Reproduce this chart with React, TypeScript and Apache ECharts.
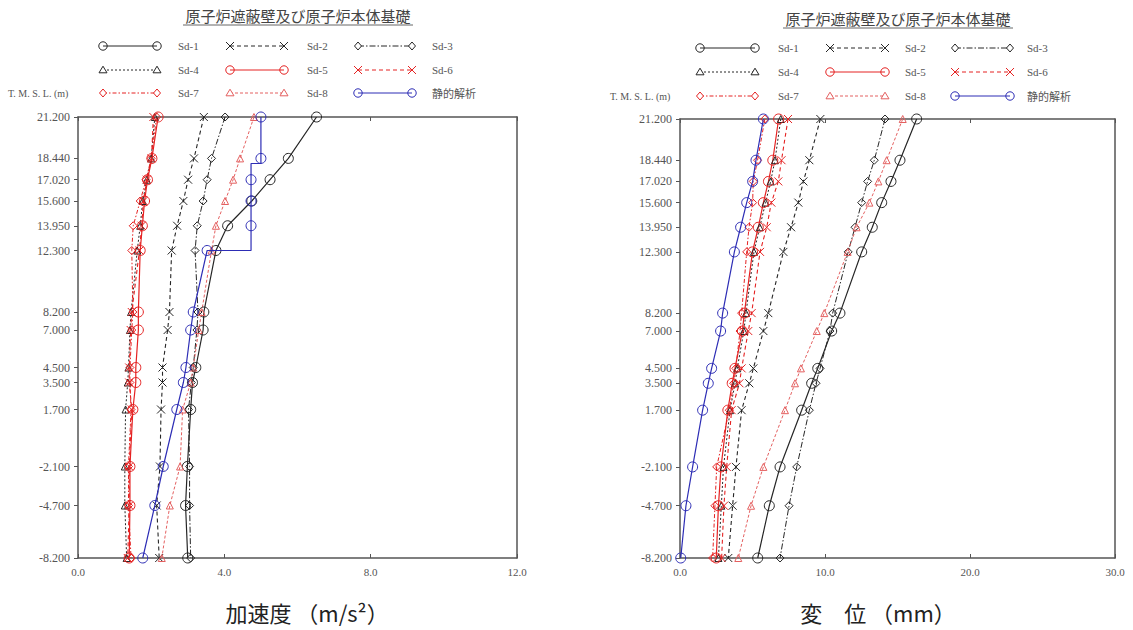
import { useEffect, useRef } from "react";
import * as echarts from "echarts";

// ---------- data ----------
const levels = [21.2, 18.44, 17.02, 15.6, 13.95, 12.3, 8.2, 7.0, 4.5, 3.5, 1.7, -2.1, -4.7, -8.2];
const seriesNames = ["Sd-1", "Sd-2", "Sd-3", "Sd-4", "Sd-5", "Sd-6", "Sd-7", "Sd-8", "静的解析"];
const accTicks = [0, 4, 8, 12];
const dispTicks = [0, 10, 20, 30];

// acceleration (m/s2)
const accSd1 = [6.52, 5.75, 5.25, 4.75, 4.09, 3.77, 3.44, 3.42, 3.22, 3.13, 3.08, 2.99, 2.94, 3.0];
const accSd2 = [3.44, 3.17, 3.01, 2.88, 2.71, 2.56, 2.5, 2.45, 2.31, 2.31, 2.27, 2.24, 2.15, 2.22];
const accSd3 = [4.02, 3.65, 3.53, 3.42, 3.26, 3.2, 3.28, 3.25, 3.15, 3.1, 3.02, 3.05, 3.05, 3.08];
const accSd4 = [2.1, 2.0, 1.88, 1.77, 1.7, 1.62, 1.45, 1.42, 1.38, 1.36, 1.3, 1.28, 1.28, 1.33];
const accSd5 = [2.19, 2.02, 1.9, 1.82, 1.76, 1.7, 1.65, 1.65, 1.58, 1.58, 1.5, 1.42, 1.42, 1.4];
const accSd6 = [2.06, 2.01, 1.88, 1.79, 1.74, 1.68, 1.47, 1.44, 1.4, 1.4, 1.47, 1.4, 1.4, 1.36];
const accSd7 = [2.15, 2.0, 1.86, 1.7, 1.51, 1.47, 1.5, 1.47, 1.42, 1.42, 1.45, 1.38, 1.38, 1.45];
const accSd8 = [4.81, 4.43, 4.24, 4.02, 3.77, 3.65, 3.38, 3.3, 3.15, 3.08, 2.86, 2.79, 2.51, 2.29];
const accStatic = [5.0, 5.0, 4.73, 4.73, 4.73, 3.53, 3.15, 3.08, 2.95, 2.88, 2.7, 2.33, 2.1, 1.77];
// step corners of the static (seismic coefficient) line: inserted after level index
const accStaticSteps = [
  { after: 1, points: [[5.0, 18.1], [4.73, 18.1]] },
  { after: 4, points: [[4.73, 12.3]] },
];

// displacement (mm)
const dispSd1 = [16.32, 15.17, 14.55, 13.91, 13.26, 12.53, 11.03, 10.46, 9.5, 9.08, 8.39, 6.9, 6.16, 5.36];
const dispSd2 = [9.68, 8.92, 8.51, 8.16, 7.66, 7.13, 6.09, 5.75, 5.06, 4.78, 4.25, 3.86, 3.63, 3.33];
const dispSd3 = [14.14, 13.4, 12.94, 12.53, 12.07, 11.6, 10.53, 10.34, 9.66, 9.38, 8.92, 8.05, 7.52, 6.9];
const dispSd4 = [6.95, 6.55, 6.25, 5.9, 5.5, 5.1, 4.55, 4.4, 3.95, 3.8, 3.45, 3.0, 2.85, 2.65];
const dispSd5 = [6.8, 6.4, 6.1, 5.75, 5.4, 5.0, 4.44, 4.3, 3.79, 3.6, 3.3, 2.83, 2.65, 2.5];
const dispSd6 = [7.45, 7.0, 6.78, 6.3, 5.98, 5.52, 4.94, 4.71, 4.25, 4.1, 3.56, 3.22, 3.03, 2.87];
const dispSd7 = [5.85, 5.35, 5.05, 5.01, 4.76, 4.6, 4.25, 4.14, 3.85, 3.7, 3.4, 2.53, 2.41, 2.25];
const dispSd8 = [15.36, 14.25, 13.68, 13.06, 12.18, 11.56, 9.95, 9.43, 8.34, 7.93, 7.24, 5.75, 4.9, 4.02];
const dispStatic = [5.75, 5.24, 5.01, 4.6, 4.18, 3.75, 2.94, 2.8, 2.18, 1.95, 1.56, 0.87, 0.41, 0.05];

const titleText = "原子炉遮蔽壁及び原子炉本体基礎";
const elevLabel = "T. M. S. L. (m)";
const accAxisName = "加速度 （m/s²）";
const dispAxisName = "変　位 （mm）";

// ---------- styles ----------
const X_PATH = "path://M0,0L10,10M10,0L0,10";
const BLACK = "#262626";
const RED = "#e52222";
const PINK = "#e46060";
const BLUE = "#2d2db5";
const styles: any[] = [
  { color: BLACK, dash: "solid", symbol: "circle", kind: "circle", size: 10, width: 1.2 },
  { color: BLACK, dash: [4, 3], symbol: X_PATH, kind: "x", size: 8, width: 1.1 },
  { color: BLACK, dash: [6, 2, 1.5, 2], symbol: "diamond", kind: "diamond", size: 8, width: 1 },
  { color: BLACK, dash: [2, 2], symbol: "triangle", kind: "triangle", size: 7, width: 1 },
  { color: RED, dash: "solid", symbol: "circle", kind: "circle", size: 10, width: 1.2 },
  { color: RED, dash: [4, 3], symbol: X_PATH, kind: "x", size: 8, width: 1.1 },
  { color: RED, dash: [4, 2, 1.5, 2], symbol: "diamond", kind: "diamond", size: 8, width: 1 },
  { color: PINK, dash: [3, 2], symbol: "triangle", kind: "triangle", size: 7, width: 1 },
  { color: BLUE, dash: "solid", symbol: "circle", kind: "circle", size: 10, width: 1.2 },
];

const AXIS = "#555";
const LABEL_FONT = "Liberation Serif";

function mkSeries(values: number[], idx: number, xi: number, yi: number, steps?: any[]) {
  const st = styles[idx];
  const data: any[] = [];
  values.forEach((v, i) => {
    data.push([v, levels[i]]);
    if (steps) {
      steps.filter((s) => s.after === i).forEach((s) =>
        s.points.forEach((p: number[]) => data.push({ value: p, symbol: "none" }))
      );
    }
  });
  return {
    type: "line",
    name: seriesNames[idx],
    xAxisIndex: xi,
    yAxisIndex: yi,
    data,
    symbol: st.symbol,
    symbolSize: st.size,
    lineStyle: { color: st.color, width: st.width, type: st.dash },
    itemStyle: { color: "rgba(255,255,255,0)", borderColor: st.color, borderWidth: 1 },
    emphasis: { disabled: true },
    silent: true,
    z: idx === 8 ? 4 : 3,
  };
}

function symbolGraphic(kind: string, cx: number, cy: number, color: string): any {
  const st = { fill: "none", stroke: color, lineWidth: 1 };
  if (kind === "circle") return { type: "circle", shape: { cx, cy, r: 4.2 }, style: st };
  if (kind === "diamond")
    return { type: "polygon", shape: { points: [[cx, cy - 4], [cx + 3.5, cy], [cx, cy + 4], [cx - 3.5, cy]] }, style: { ...st, fill: "#fff" } };
  if (kind === "triangle")
    return { type: "polygon", shape: { points: [[cx, cy - 3.8], [cx + 4, cy + 2.8], [cx - 4, cy + 2.8]] }, style: { ...st, fill: "#fff" } };
  return {
    type: "group",
    children: [
      { type: "line", shape: { x1: cx - 4, y1: cy - 4, x2: cx + 4, y2: cy + 4 }, style: st },
      { type: "line", shape: { x1: cx + 4, y1: cy - 4, x2: cx - 4, y2: cy + 4 }, style: st },
    ],
  };
}

function textEl(text: string, x: number, y: number, font: string, fill: string, align = "left"): any {
  return {
    type: "text",
    x,
    y,
    style: { text, font, fill, align, verticalAlign: "middle", textAlign: align, textVerticalAlign: "middle" },
  };
}

function legendGraphics(colX: number[], textX: number[], rowY: number[], lineLen: number) {
  const els: any[] = [];
  seriesNames.forEach((name, i) => {
    const st = styles[i];
    const x0 = colX[i % 3];
    const y = rowY[Math.floor(i / 3)];
    els.push({
      type: "line",
      shape: { x1: x0, y1: y, x2: x0 + lineLen, y2: y },
      style: { stroke: st.color, lineWidth: 1, lineDash: st.dash === "solid" ? null : st.dash },
    });
    els.push(symbolGraphic(st.kind, x0, y, st.color));
    els.push(symbolGraphic(st.kind, x0 + lineLen, y, st.color));
    els.push(textEl(name, textX[i % 3], y, `11px "${i === 8 ? "Noto Sans CJK JP" : LABEL_FONT}"`, "#555"));
  });
  return els;
}

function titleGraphics(cx: number, cy: number) {
  return [
    textEl(titleText, cx, cy, '15px "Noto Sans CJK JP"', "#444", "center"),
    { type: "line", shape: { x1: cx - 115, y1: cy + 10, x2: cx + 115, y2: cy + 10 }, style: { stroke: "#666", lineWidth: 1 } },
  ];
}

function yAxes(gridIndex: number) {
  return [
    {
      type: "value",
      gridIndex,
      min: -8.2,
      max: 21.2,
      position: "left",
      axisLine: { show: true, onZero: false, lineStyle: { color: AXIS, width: 1.5 } },
      axisTick: { show: true, inside: false, length: 4, customValues: levels, lineStyle: { color: AXIS } },
      axisLabel: {
        customValues: levels,
        formatter: (v: number) => v.toFixed(3),
        fontFamily: LABEL_FONT,
        fontSize: 12,
        color: "#555",
        margin: 8,
      },
      splitLine: { show: false },
    },
    {
      type: "value",
      gridIndex,
      min: -8.2,
      max: 21.2,
      position: "right",
      axisLine: { show: true, onZero: false, lineStyle: { color: AXIS, width: 1.5 } },
      axisTick: { show: false },
      axisLabel: { show: false },
      splitLine: { show: false },
    },
  ];
}

function xAxes(gridIndex: number, ticks: number[]) {
  const interval = ticks[1] - ticks[0];
  const base = {
    type: "value",
    gridIndex,
    min: ticks[0],
    max: ticks[ticks.length - 1],
    interval,
    splitLine: { show: false },
  };
  return [
    {
      ...base,
      position: "bottom",
      axisLine: { show: true, onZero: false, lineStyle: { color: AXIS, width: 1.5 } },
      axisTick: { show: true, inside: true, length: 4, lineStyle: { color: AXIS } },
      axisLabel: {
        formatter: (v: number) => v.toFixed(1),
        fontFamily: LABEL_FONT,
        fontSize: 11,
        color: "#555",
        margin: 8,
      },
    },
    {
      ...base,
      position: "top",
      axisLine: { show: true, onZero: false, lineStyle: { color: AXIS, width: 1.5 } },
      axisTick: { show: true, inside: true, length: 4, lineStyle: { color: AXIS } },
      axisLabel: { show: false },
    },
  ];
}

export default function App() {
  const ref = useRef<HTMLDivElement>(null);
  useEffect(() => {
    if (!ref.current) return;
    const chart = echarts.init(ref.current, undefined, { renderer: "svg" });
    const accSets = [accSd1, accSd2, accSd3, accSd4, accSd5, accSd6, accSd7, accSd8, accStatic];
    const dispSets = [dispSd1, dispSd2, dispSd3, dispSd4, dispSd5, dispSd6, dispSd7, dispSd8, dispStatic];
    const series: any[] = [];
    accSets.forEach((vals, i) => series.push(mkSeries(vals, i, 0, 0, i === 8 ? accStaticSteps : undefined)));
    dispSets.forEach((vals, i) => series.push(mkSeries(vals, i, 2, 2)));

    const option: any = {
      animation: false,
      backgroundColor: "#fff",
      grid: [
        { left: 78, top: 117, width: 439, height: 441 },
        { left: 680, top: 119, width: 435, height: 439 },
      ],
      xAxis: [...xAxes(0, accTicks), ...xAxes(1, dispTicks)],
      yAxis: [...yAxes(0), ...yAxes(1)],
      series,
      graphic: {
        elements: [
          ...titleGraphics(298, 15),
          ...titleGraphics(898, 18),
          ...legendGraphics([103, 230, 358], [178, 307, 432], [46, 70, 93], 54),
          ...legendGraphics([700, 830, 955], [778, 905, 1027], [48, 72, 96], 55),
          textEl(elevLabel, 8, 93, `10px "${LABEL_FONT}"`, "#555"),
          textEl(elevLabel, 610, 96, `10px "${LABEL_FONT}"`, "#555"),
          textEl(accAxisName, 307, 612, '22px "Noto Sans CJK JP"', "#222", "center"),
          textEl(dispAxisName, 878, 612, '22px "Noto Sans CJK JP"', "#222", "center"),
        ],
      },
    };
    chart.setOption(option);
    return () => chart.dispose();
  }, []);
  return (
    <div
      ref={ref}
      style={{ position: "fixed", left: 0, top: 0, width: 1133, height: 630, background: "#fff" }}
    />
  );
}
